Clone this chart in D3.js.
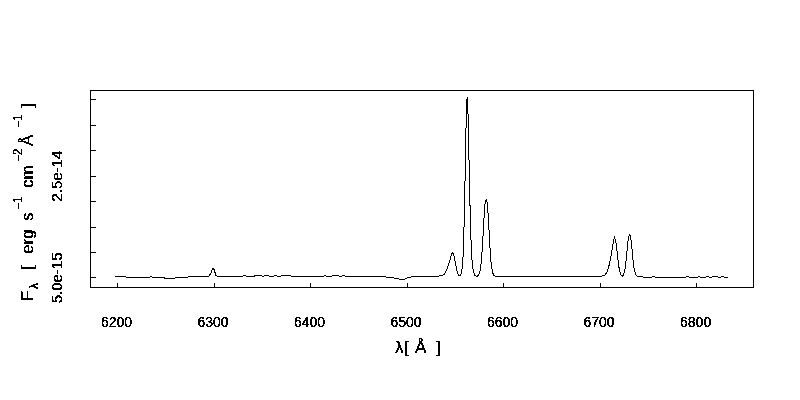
<!DOCTYPE html>
<html>
<head>
<meta charset="utf-8">
<script src="https://cdn.jsdelivr.net/npm/d3@7"></script>
<style>
  html, body { margin: 0; padding: 0; background: #fff; }
  svg { display: block; font-family: "Liberation Sans", Arial, Helvetica, sans-serif; }
</style>
</head>
<body>
<svg id="chart" width="800" height="400">
  <defs>
    <filter id="alias" x="-5%" y="-5%" width="110%" height="110%">
      <feComponentTransfer><feFuncA type="discrete" tableValues="0 1 1 1"/></feComponentTransfer>
    </filter>
  </defs>
</svg>
<script>
// ---- data (flux in units of 1e-15 erg s^-1 cm^-2 Å^-1) ----
const FLUX_UNIT = 1e-15;
const wavelength = [
  6198,6204,6208,6212,6216,6220,6224,6228,6232,6236,6240,6244,6248,6252,6256,6260,6264,6268,6272,6276,
  6280,6284,6288,6292,6294,6296,6298,6299,6300,6301,6302,6303,6305,6308,6312,6316,6320,6324,6328,6332,
  6336,6340,6344,6348,6352,6356,6360,6364,6368,6372,6376,6380,6384,6388,6392,6396,6400,6404,6408,6412,
  6416,6420,6424,6428,6432,6436,6440,6444,6448,6452,6456,6460,6464,6468,6472,6476,6480,6484,6488,6492,
  6496,6498,6500,6504,6508,6512,6516,6520,6524,6528,6532,6536,6538,6540,6542,6544,6546,6547,6548,6549,
  6550,6551,6552,6553,6554,6555,6556,6557,6558,6559,6560,6561,6562,6563,6563.5,6564,6565,6566,6567,6568,
  6569,6570,6571,6572,6573,6574,6575,6576,6577,6578,6579,6580,6581,6582,6583,6584,6585,6586,6587,6588,
  6589,6590,6591,6592,6594,6598,6602,6606,6610,6614,6618,6622,6626,6630,6634,6638,6642,6646,6650,6654,
  6658,6662,6666,6670,6674,6678,6682,6686,6690,6694,6698,6700,6704,6706,6708,6710,6712,6714,6715,6716,
  6717,6718,6719,6720,6721,6722,6723,6724,6725,6726,6727,6728,6729,6730,6731,6732,6733,6734,6735,6736,
  6737,6738,6740,6744,6748,6752,6756,6760,6764,6768,6772,6776,6780,6784,6788,6792,6796,6800,6804,6808,
  6812,6816,6820,6824,6828,6832,6834
];
const flux = [
  5.10,5.05,5.00,4.95,4.85,4.90,4.80,4.85,4.95,5.00,4.90,4.80,4.85,4.70,4.65,4.75,4.90,4.95,4.90,5.05,
  5.10,5.05,5.10,5.15,5.10,5.20,5.80,6.40,6.65,6.50,5.90,5.30,5.10,5.00,5.05,5.10,5.10,5.15,5.10,5.20,
  5.15,5.10,5.20,5.25,5.15,5.25,5.10,5.20,5.15,5.20,5.25,5.20,5.10,5.15,5.00,5.00,5.05,5.10,5.15,5.10,
  5.20,5.10,5.20,5.25,5.15,5.20,5.10,5.15,5.10,5.10,5.15,5.10,5.10,5.05,5.10,5.05,4.95,4.90,4.75,4.60,
  4.45,4.50,4.70,4.95,5.05,5.10,5.10,5.10,5.10,5.15,5.15,5.20,5.30,5.60,6.30,7.40,8.70,9.40,9.75,9.60,
  8.90,7.90,6.90,6.00,5.50,5.20,5.30,5.60,6.60,9.00,14.5,23.0,33.5,39.8,40.3,38.5,30.0,21.0,13.5,9.00,
  6.90,5.90,5.40,5.20,5.10,5.15,5.30,5.70,6.50,8.00,10.6,14.0,17.5,19.8,20.2,19.6,17.4,14.0,10.5,8.00,
  6.50,5.70,5.30,5.15,5.10,5.05,5.10,5.05,5.10,5.00,5.05,5.10,5.05,5.00,5.10,5.05,5.00,5.10,5.05,5.00,
  5.05,5.00,5.10,5.05,5.00,5.05,5.10,5.05,5.00,5.05,5.05,5.10,5.20,5.40,5.90,7.00,8.80,11.0,12.2,12.7,
  12.3,11.0,9.30,7.60,6.40,5.70,5.30,5.15,5.30,5.80,6.80,8.40,10.3,12.2,13.1,13.3,12.4,10.6,8.60,7.00,
  6.00,5.40,5.10,5.00,4.95,4.90,5.00,4.95,4.90,4.95,4.90,4.90,4.95,4.90,4.95,5.00,4.90,4.95,5.00,4.90,
  5.00,4.95,5.05,4.95,5.00,4.95,5.00
];
const xTicks = [6200, 6300, 6400, 6500, 6600, 6700, 6800];
const yTicks = [5e-15, 1e-14, 1.5e-14, 2e-14, 2.5e-14, 3e-14, 3.5e-14, 4e-14];
const yTickLabels = {"5e-15": "5.0e-15", "2.5e-14": "2.5e-14"};

// ---- layout ----
const plot = {left: 90, top: 90, right: 753, bottom: 287};
const svg = d3.select("#chart");

const data = wavelength.map((w, i) => ({w, f: flux[i] * FLUX_UNIT}));

function padded(ext) {
  const d = (ext[1] - ext[0]) * 0.04;
  return [ext[0] - d, ext[1] + d];
}
const x = d3.scaleLinear().domain(padded(d3.extent(data, d => d.w))).range([plot.left, plot.right]);
const y = d3.scaleLinear().domain(padded(d3.extent(data, d => d.f))).range([plot.bottom, plot.top]);

// spectrum
const line = d3.line().x(d => x(d.w)).y(d => y(d.f));
svg.append("path")
  .datum(data)
  .attr("d", line)
  .attr("fill", "none")
  .attr("stroke", "#000")
  .attr("stroke-width", 1)
  .attr("shape-rendering", "crispEdges");

// frame
svg.append("rect")
  .attr("x", plot.left + 0.5).attr("y", plot.top + 0.5)
  .attr("width", plot.right - plot.left).attr("height", plot.bottom - plot.top)
  .attr("fill", "none").attr("stroke", "#000").attr("shape-rendering", "crispEdges");

// x axis (inward ticks)
const xAxis = d3.axisTop(x).tickValues(xTicks).tickSize(5).tickFormat("");
const gx = svg.append("g").attr("transform", `translate(0.5,${plot.bottom + 0.5})`).call(xAxis);
gx.select(".domain").remove();
gx.selectAll("line").attr("shape-rendering", "crispEdges");

// y axis (inward ticks)
const yAxis = d3.axisRight(y).tickValues(yTicks).tickSize(5).tickFormat("");
const gy = svg.append("g").attr("transform", `translate(${plot.left + 0.5},0.5)`).call(yAxis);
gy.select(".domain").remove();
gy.selectAll("line").attr("shape-rendering", "crispEdges");

// all text in an aliased group (bitmap-like rendering)
const txt = svg.append("g").attr("filter", "url(#alias)").attr("fill", "#000");

txt.append("g").selectAll("text").data(xTicks).join("text")
  .attr("x", d => x(d)).attr("y", 327)
  .attr("text-anchor", "middle").attr("font-size", 14)
  .text(d => d);

const labeled = yTicks.filter(t => yTickLabels[String(t)]);
txt.append("g").selectAll("text").data(labeled).join("text")
  .attr("transform", d => `translate(62,${y(d) + 1}) rotate(-90)`)
  .attr("text-anchor", "middle").attr("font-size", 15)
  .text(d => yTickLabels[String(d)]);

// x title: λ[ Å ]
const xTitle = [
  {t: "λ", dx: 395, size: 17},
  {t: "[", dx: 404.5, size: 17},
  {t: "Å", dx: 415, size: 17},
  {t: "]", dx: 436, size: 17}
];
txt.append("g").selectAll("text").data(xTitle).join("text")
  .attr("x", d => d.dx).attr("y", 353).attr("font-size", d => d.size)
  .text(d => d.t);

// y title: F_λ [ erg s^-1 cm^-2 Å^-1 ]  (offsets along the rotated baseline)
const yTitle = [
  {t: "F", off: 0, size: 17, shift: 0},
  {t: "λ", off: 12, size: 12, shift: 5},
  {t: "[", off: 31, size: 17, shift: 0},
  {t: "erg", off: 47, size: 17, shift: 0},
  {t: "s", off: 80, size: 17, shift: 0},
  {t: "−1", off: 91, size: 12, shift: -11},
  {t: "cm", off: 113, size: 17, shift: 0},
  {t: "−2", off: 139, size: 12, shift: -11},
  {t: "Å", off: 155, size: 17, shift: 0},
  {t: "−1", off: 173, size: 12, shift: -11},
  {t: "]", off: 193, size: 17, shift: 0}
];
txt.append("g").attr("transform", "translate(33,301) rotate(-90)")
  .selectAll("text").data(yTitle).join("text")
  .attr("x", d => d.off).attr("y", d => d.shift).attr("font-size", d => d.size)
  .text(d => d.t);
</script>
</body>
</html>
